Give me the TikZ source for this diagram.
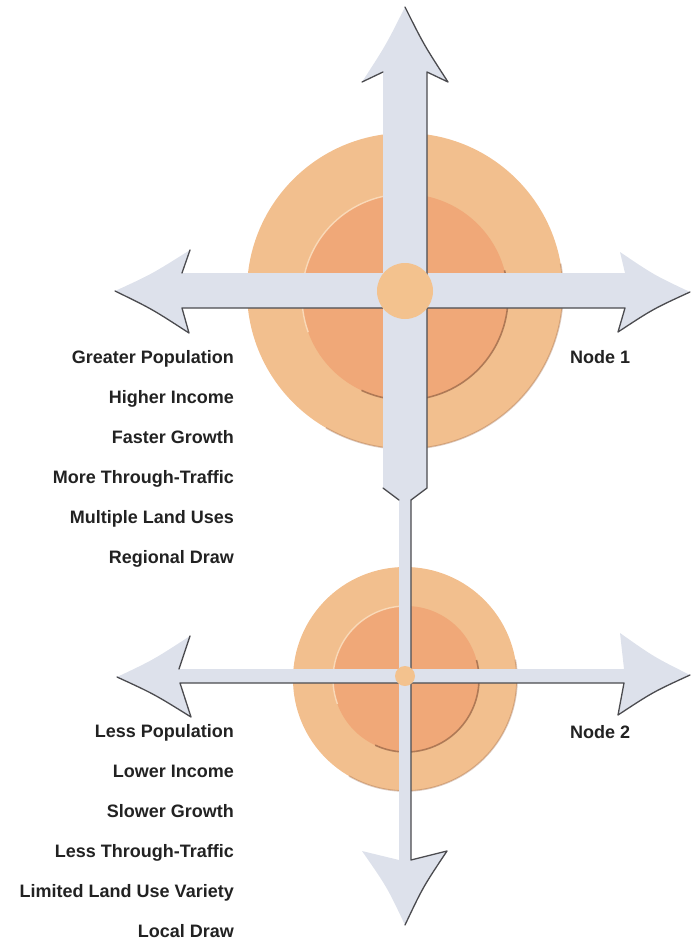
\documentclass[tikz,border=0pt]{standalone}
\usepackage{fontspec}
\setmainfont{Liberation Sans}
\usepackage{xcolor}
\usetikzlibrary{positioning}
\definecolor{discOuter}{HTML}{F2BF8E}
\definecolor{discInner}{HTML}{F0A878}
\definecolor{discDot}{HTML}{F3C28E}
\definecolor{rimShade}{HTML}{9A6748}
\definecolor{rimGlow}{HTML}{F9D9B8}
\definecolor{roadGray}{HTML}{DDE1EB}
\definecolor{edgeInk}{HTML}{4B4B4F}
\definecolor{labelInk}{HTML}{222222}
\tikzset{
  discouter/.style={circle, fill=discOuter, draw=none, inner sep=0pt},
  discinner/.style={circle, fill=discInner, draw=none, inner sep=0pt},
  discdot/.style={circle, fill=discDot, draw=none, inner sep=0pt},
  rimdark/.style={draw=rimShade, line width=1.6pt, opacity=0.75},
  rimlight/.style={draw=rimGlow, line width=1.4pt},
  roadfill/.style={fill=roadGray, draw=none},
  roadedge/.style={draw=edgeInk, line width=1.3pt, line join=round, line cap=round},
  lbl/.style={font=\fontsize{18}{21}\selectfont\bfseries, text=labelInk, inner sep=0pt},
  lblL/.style={lbl, anchor=base east},
  lblR/.style={lbl, anchor=base west},
}
\begin{document}
\begin{tikzpicture}[x=1pt, y=-1pt]
    \useasboundingbox (0,0) rectangle (691,943);
    %% node 1 discs
    \node[discouter, minimum size=316] (out1) at (405,291) {};
    \draw[rimdark, opacity=0.35] (out1.center) ++(-10:158) arc[start angle=-10, end angle=120, radius=158];
    \node[discinner, minimum size=206] (in1) at (405,297) {};
    \draw[rimlight] (in1.center) ++(-200:103) arc[start angle=-200, end angle=-95, radius=103];
    \draw[rimdark] (in1.center) ++(-15:103) arc[start angle=-15, end angle=115, radius=103];
    %% node 2 discs
    \node[discouter, minimum size=224] (out2) at (405,679) {};
    \draw[rimdark, opacity=0.35] (out2.center) ++(-10:112) arc[start angle=-10, end angle=120, radius=112];
    \node[discinner, minimum size=146] (in2) at (406,679) {};
    \draw[rimlight] (in2.center) ++(-200:73) arc[start angle=-200, end angle=-95, radius=73];
    \draw[rimdark] (in2.center) ++(-15:73) arc[start angle=-15, end angle=115, radius=73];
    %% horizontal road, node 1
    \fill[roadfill] (115,291) .. controls (152,274) .. (190,250) -- (182,273) -- (625,273)
        -- (620,252) .. controls (654,275) .. (690,292) .. controls (653,309) .. (618,332)
        -- (625,308) -- (182,308) -- (189,333) .. controls (152,309) .. (115,291) -- cycle;
    \draw[roadedge] (190,250) -- (182,273);
    \draw[roadedge] (115,291) .. controls (152,309) .. (189,333) -- (182,308) -- (625,308)
        -- (618,332) .. controls (653,309) .. (690,292);
    %% horizontal road, node 2
    \fill[roadfill] (117,677) .. controls (153,660) .. (190,636) -- (179,669) -- (624,669)
        -- (620,633) .. controls (654,657) .. (690,675) .. controls (653,692) .. (618,715)
        -- (624,683) -- (180,683) -- (191,717) .. controls (154,694) .. (117,677) -- cycle;
    \draw[roadedge] (190,636) -- (179,669);
    \draw[roadedge] (117,677) .. controls (154,694) .. (191,717) -- (180,683) -- (624,683)
        -- (618,715) .. controls (653,692) .. (690,675);
    %% vertical road through both nodes
    \fill[roadfill] (405,7) .. controls (424,45) .. (448,82) -- (427,72) -- (427,488)
        -- (411,500) -- (411,860) -- (447,851) .. controls (423,887) .. (405,925)
        .. controls (387,887) .. (362,851) -- (399,860) -- (399,500) -- (383,488)
        -- (383,72) -- (362,82) .. controls (386,45) .. (405,7) -- cycle;
    \draw[roadedge] (362,82) -- (383,72);
    \draw[roadedge] (383,488) -- (399,500);
    \draw[roadedge] (405,7) .. controls (424,45) .. (448,82) -- (427,72) -- (427,488)
        -- (411,500) -- (411,860) -- (447,851) .. controls (423,887) .. (405,925);
    %% centre dots
    \node[discdot, minimum size=56] (dot1) at (405,291) {};
    \node[discdot, minimum size=20] (dot2) at (405,676) {};
    %% labels, node 1
    \node[lblR] (name1) at (570,363) {Node 1};
    \node[lblL] (a1) at (234,363) {Greater Population};
    \node[lblL] (a2) at (234,403) {Higher Income};
    \node[lblL] (a3) at (234,443) {Faster Growth};
    \node[lblL] (a4) at (234,483) {More Through-Traffic};
    \node[lblL] (a5) at (234,523) {Multiple Land Uses};
    \node[lblL] (a6) at (234,563) {Regional Draw};
    %% labels, node 2
    \node[lblR] (name2) at (570,738) {Node 2};
    \node[lblL] (b1) at (234,737) {Less Population};
    \node[lblL] (b2) at (234,777) {Lower Income};
    \node[lblL] (b3) at (234,817) {Slower Growth};
    \node[lblL] (b4) at (234,857) {Less Through-Traffic};
    \node[lblL] (b5) at (234,897) {Limited Land Use Variety};
    \node[lblL] (b6) at (234,937) {Local Draw};
\end{tikzpicture}
\end{document}
